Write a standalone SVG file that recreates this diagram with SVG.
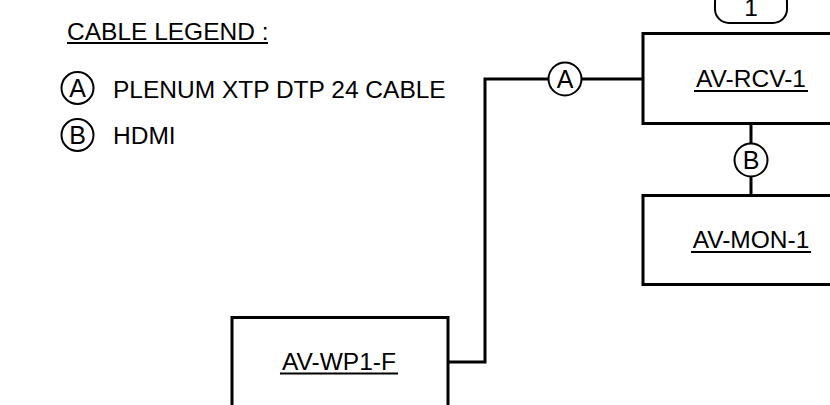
<svg xmlns="http://www.w3.org/2000/svg" width="830" height="405" viewBox="0 0 830 405">
<style>
text{font-family:"Liberation Sans",Arial,sans-serif;font-size:24.5px;fill:#000}
.box{fill:#fff;stroke:#000;stroke-width:3}
.ul{stroke:#000;stroke-width:2}
.wire{fill:none;stroke:#000;stroke-width:3}
.tag{fill:#fff;stroke:#000;stroke-width:2}
.c{text-anchor:middle}
.t{font-size:25px}
</style>
<rect width="830" height="405" fill="#fff"/>
<g id="legend">
<text x="67" y="40">CABLE LEGEND :</text>
<line class="ul" x1="67" y1="43" x2="268" y2="43"/>
<circle class="tag" cx="77.5" cy="88" r="16"/>
<text class="c t" x="77.5" y="97">A</text>
<text x="113" y="97.5">PLENUM XTP DTP 24 CABLE</text>
<circle class="tag" cx="77.5" cy="135" r="16"/>
<text class="c t" x="77.5" y="144">B</text>
<text x="113" y="143.5">HDMI</text>
</g>
<g id="connectors">
<polyline class="wire" points="448,362 485,362 485,79 643,79"/>
<line class="wire" x1="751" y1="123" x2="751" y2="196"/>
<g id="cable-A">
<circle class="tag" cx="565" cy="79" r="16.5"/>
<text class="c t" x="565" y="88">A</text>
</g>
<g id="cable-B">
<circle class="tag" cx="751" cy="160" r="16.5"/>
<text class="c t" x="751" y="169">B</text>
</g>
</g>
<g id="sheet-tag">
<rect class="tag" x="715" y="-12" width="72" height="35" rx="14"/>
<text class="c" x="751" y="16">1</text>
</g>
<g id="AV-RCV-1">
<rect class="box" x="643" y="33.5" width="220" height="90"/>
<text class="c" x="751" y="87">AV-RCV-1</text>
<line class="ul" x1="694" y1="91" x2="808" y2="91"/>
</g>
<g id="AV-MON-1">
<rect class="box" x="643" y="195.5" width="220" height="89"/>
<text class="c" x="751" y="248">AV-MON-1</text>
<line class="ul" x1="691" y1="252" x2="811" y2="252"/>
</g>
<g id="AV-WP1-F">
<rect class="box" x="232" y="317.5" width="216" height="110"/>
<text class="c" x="339" y="370">AV-WP1-F</text>
<line class="ul" x1="280" y1="373.5" x2="398" y2="373.5"/>
</g>
</svg>
